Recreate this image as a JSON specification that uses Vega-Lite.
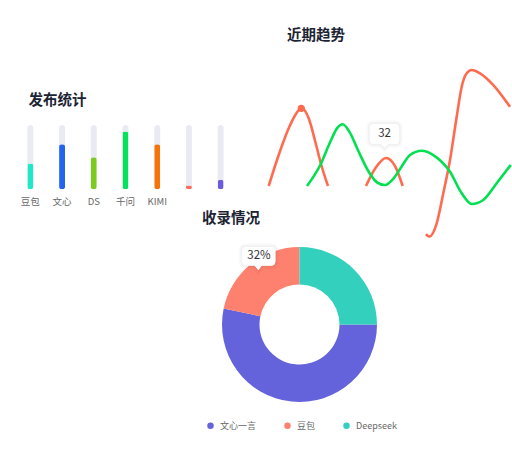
{
  "$schema": "https://vega.github.io/schema/vega-lite/v6.json",
  "description": "发布统计 / 近期趋势 / 收录情况",
  "width": 512,
  "height": 455,
  "padding": 0,
  "autosize": {"type": "none"},
  "config": {
    "view": {"stroke": null},
    "font": "Noto Sans CJK SC",
    "axis": {"grid": false, "domain": false, "ticks": false}
  },
  "resolve": {
    "scale": {"x": "independent", "y": "independent", "color": "independent"},
    "axis": {"x": "independent", "y": "independent"},
    "legend": {"color": "independent"}
  },
  "layer": [
    {
      "data": {
        "values": [
          {"name": "豆包", "value": 40},
          {"name": "文心", "value": 70},
          {"name": "DS", "value": 50},
          {"name": "千问", "value": 90},
          {"name": "KIMI", "value": 70},
          {"name": " ", "value": 6},
          {"name": "  ", "value": 15}
        ]
      },
      "encoding": {
        "x": {
          "field": "name",
          "type": "nominal",
          "sort": null,
          "scale": {"range": [14.5, 236.5], "paddingInner": 0, "paddingOuter": 0},
          "axis": {
            "orient": "bottom",
            "offset": -266,
            "labelAngle": 0,
            "labelPadding": 7,
            "labelFontSize": 9.5,
            "labelColor": "#666666",
            "title": "发布统计",
            "titleX": 28,
            "titleY": -89,
            "titleAlign": "left",
            "titleBaseline": "middle",
            "titleFontSize": 14.5,
            "titleFontWeight": "bold",
            "titleColor": "#1c2433"
          }
        }
      },
      "layer": [
        {
          "mark": {"type": "bar", "size": 6, "cornerRadius": 3, "color": "#E8ECF2"},
          "encoding": {
            "y": {
              "datum": 100,
              "type": "quantitative",
              "scale": {"domain": [0, 100], "range": [189.3, 125], "nice": false},
              "axis": null
            }
          }
        },
        {
          "mark": {"type": "bar", "size": 6, "cornerRadius": 2.5},
          "encoding": {
            "y": {"field": "value", "type": "quantitative"},
            "color": {
              "field": "name",
              "type": "nominal",
              "sort": null,
              "scale": {"range": ["#1EE8C8", "#2463EE", "#7ACC1E", "#00E35B", "#F5740A", "#FF6B5A", "#6C5CDB"]},
              "legend": null
            }
          }
        }
      ]
    },
    {
      "data": {
        "values": [
          {"series": "发布", "segment": "r1", "t": 0.07, "v": 0},
          {"series": "发布", "segment": "r1", "t": 1.07, "v": 35.4},
          {"series": "发布", "segment": "r1", "t": 2.07, "v": 65.9},
          {"series": "发布", "segment": "r1", "t": 2.73, "v": 81.1},
          {"series": "发布", "segment": "r1", "t": 3.33, "v": 88.8},
          {"series": "发布", "segment": "r1", "t": 4.07, "v": 77.4},
          {"series": "发布", "segment": "r1", "t": 4.73, "v": 50.6},
          {"series": "发布", "segment": "r1", "t": 5.33, "v": 24},
          {"series": "发布", "segment": "r1", "t": 6.0, "v": 0},
          {"series": "发布", "segment": "r2", "t": 9.8, "v": 0},
          {"series": "发布", "segment": "r2", "t": 10.73, "v": 20.2},
          {"series": "发布", "segment": "r2", "t": 11.8, "v": 32},
          {"series": "发布", "segment": "r2", "t": 12.73, "v": 22.1},
          {"series": "发布", "segment": "r2", "t": 13.47, "v": 0},
          {"series": "发布", "segment": "r3", "t": 15.8, "v": -54.9},
          {"series": "发布", "segment": "r3", "t": 16.13, "v": -57.9},
          {"series": "发布", "segment": "r3", "t": 16.87, "v": -42.6},
          {"series": "发布", "segment": "r3", "t": 17.53, "v": -8.3},
          {"series": "发布", "segment": "r3", "t": 18.2, "v": 29.7},
          {"series": "发布", "segment": "r3", "t": 18.87, "v": 79.2},
          {"series": "发布", "segment": "r3", "t": 19.37, "v": 113.5},
          {"series": "发布", "segment": "r3", "t": 19.87, "v": 128.8},
          {"series": "发布", "segment": "r3", "t": 20.37, "v": 132.6},
          {"series": "发布", "segment": "r3", "t": 21.2, "v": 128.8},
          {"series": "发布", "segment": "r3", "t": 22.53, "v": 115.4},
          {"series": "发布", "segment": "r3", "t": 24.2, "v": 90.6},
          {"series": "收录", "segment": "g1", "t": 3.9, "v": 0},
          {"series": "收录", "segment": "g1", "t": 5.23, "v": 24},
          {"series": "收录", "segment": "g1", "t": 6.23, "v": 50.6},
          {"series": "收录", "segment": "g1", "t": 6.9, "v": 65.9},
          {"series": "收录", "segment": "g1", "t": 7.47, "v": 70.5},
          {"series": "收录", "segment": "g1", "t": 8.13, "v": 62.1},
          {"series": "收录", "segment": "g1", "t": 9.07, "v": 39.2},
          {"series": "收录", "segment": "g1", "t": 10.07, "v": 16.3},
          {"series": "收录", "segment": "g1", "t": 10.9, "v": 4.2},
          {"series": "收录", "segment": "g1", "t": 11.67, "v": 1.1},
          {"series": "收录", "segment": "g1", "t": 12.57, "v": 8.8},
          {"series": "收录", "segment": "g1", "t": 13.4, "v": 22.9},
          {"series": "收录", "segment": "g1", "t": 14.2, "v": 35.4},
          {"series": "收录", "segment": "g1", "t": 15.37, "v": 40.3},
          {"series": "收录", "segment": "g1", "t": 16.53, "v": 35.4},
          {"series": "收录", "segment": "g1", "t": 18.2, "v": 16.3},
          {"series": "收录", "segment": "g1", "t": 19.37, "v": -8.3},
          {"series": "收录", "segment": "g1", "t": 20.37, "v": -20.6},
          {"series": "收录", "segment": "g1", "t": 21.53, "v": -16},
          {"series": "收录", "segment": "g1", "t": 22.87, "v": 3.1},
          {"series": "收录", "segment": "g1", "t": 24.27, "v": 24}
        ]
      },
      "encoding": {
        "x": {
          "field": "t",
          "type": "quantitative",
          "scale": {"domain": [0, 24.4], "range": [268, 512], "nice": false, "zero": false},
          "axis": {
            "orient": "top",
            "labels": false,
            "title": "近期趋势",
            "titleX": 315.5,
            "titleY": 35,
            "titleAlign": "center",
            "titleBaseline": "middle",
            "titleFontSize": 14.5,
            "titleFontWeight": "bold",
            "titleColor": "#1c2433"
          }
        },
        "y": {
          "field": "v",
          "type": "quantitative",
          "scale": {"domain": [-60, 140], "range": [238.5, 63.5], "nice": false, "zero": false},
          "axis": null
        }
      },
      "layer": [
        {
          "mark": {"type": "line", "interpolate": "monotone", "strokeWidth": 2.6},
          "encoding": {
            "color": {
              "field": "series",
              "type": "nominal",
              "scale": {"domain": ["发布", "收录"], "range": ["#FF6B4F", "#00E050"]},
              "legend": null
            },
            "detail": {"field": "segment"}
          }
        },
        {
          "data": {"values": [{"t": 3.33, "v": 88.8}]},
          "mark": {"type": "point", "shape": "circle", "filled": true, "size": 52, "color": "#FF6B4F", "opacity": 1}
        },
        {
          "data": {"values": [{"t": 11.8, "v": 32, "label": "32"}]},
          "layer": [
            {
              "mark": {
                "type": "point",
                "shape": "M -1.22 -3.4 L 0.92 -3.4 Q 1.32 -3.4 1.32 -3 L 1.32 -1.8 Q 1.32 -1.4 0.92 -1.4 L 0.2 -1.4 L -0.15 -1.05 L -0.5 -1.4 L -1.22 -1.4 Q -1.62 -1.4 -1.62 -1.8 L -1.62 -3 Q -1.62 -3.4 -1.22 -3.4 Z",
                "size": 400,
                "filled": true,
                "fill": "#ffffff",
                "stroke": "#000000",
                "strokeOpacity": 0.025,
                "strokeWidth": 7,
                "opacity": 1
              }
            },
            {
              "mark": {
                "type": "point",
                "shape": "M -1.22 -3.4 L 0.92 -3.4 Q 1.32 -3.4 1.32 -3 L 1.32 -1.8 Q 1.32 -1.4 0.92 -1.4 L 0.2 -1.4 L -0.15 -1.05 L -0.5 -1.4 L -1.22 -1.4 Q -1.62 -1.4 -1.62 -1.8 L -1.62 -3 Q -1.62 -3.4 -1.22 -3.4 Z",
                "size": 400,
                "filled": true,
                "fill": "#ffffff",
                "stroke": "#000000",
                "strokeOpacity": 0.03,
                "strokeWidth": 3.5,
                "opacity": 1
              }
            },
            {
              "mark": {
                "type": "point",
                "shape": "M -1.22 -3.4 L 0.92 -3.4 Q 1.32 -3.4 1.32 -3 L 1.32 -1.8 Q 1.32 -1.4 0.92 -1.4 L 0.2 -1.4 L -0.15 -1.05 L -0.5 -1.4 L -1.22 -1.4 Q -1.62 -1.4 -1.62 -1.8 L -1.62 -3 Q -1.62 -3.4 -1.22 -3.4 Z",
                "size": 400,
                "filled": true,
                "fill": "#ffffff",
                "strokeWidth": 0,
                "opacity": 1
              }
            },
            {
              "mark": {"type": "text", "dx": -1.5, "dy": -24, "fontSize": 11.5, "color": "#333333", "align": "center", "baseline": "middle"},
              "encoding": {"text": {"field": "label"}}
            }
          ]
        }
      ]
    },
    {
      "data": {
        "values": [
          {"name": "文心一言", "value": 53.3},
          {"name": "豆包", "value": 21.7},
          {"name": "Deepseek", "value": 25}
        ]
      },
      "encoding": {
        "x": {
          "datum": 0,
          "type": "quantitative",
          "scale": {"domain": [-1, 1], "range": [222, 377], "nice": false, "zero": false},
          "axis": {
            "orient": "top",
            "labels": false,
            "title": "收录情况",
            "titleX": 230.5,
            "titleY": 218,
            "titleAlign": "center",
            "titleBaseline": "middle",
            "titleFontSize": 14.5,
            "titleFontWeight": "bold",
            "titleColor": "#1c2433"
          }
        },
        "y": {
          "datum": 0,
          "type": "quantitative",
          "scale": {"domain": [-1, 1], "range": [402, 247], "nice": false, "zero": false},
          "axis": null
        }
      },
      "layer": [
        {
          "mark": {"type": "arc", "innerRadius": 40, "outerRadius": 77.5},
          "encoding": {
            "theta": {"field": "value", "type": "quantitative", "stack": true},
            "color": {
              "field": "name",
              "type": "nominal",
              "scale": {"domain": ["文心一言", "豆包", "Deepseek"], "range": ["#6563DB", "#FE806E", "#33D1BD"]},
              "legend": {
                "orient": "none",
                "legendX": 206,
                "legendY": 421,
                "direction": "horizontal",
                "title": null,
                "symbolType": "circle",
                "symbolSize": 42,
                "labelFontSize": 9,
                "labelColor": "#666666",
                "labelOffset": 5,
                "columnPadding": 26,
                "padding": 0
              }
            }
          }
        },
        {
          "data": {"values": [{"label": "32%"}]},
          "encoding": {
            "x": {"datum": -0.532, "type": "quantitative"},
            "y": {"datum": 0.703, "type": "quantitative"}
          },
          "layer": [
            {
              "mark": {
                "type": "point",
                "shape": "M -1.2 -2.3 L 1.3 -2.3 Q 1.7 -2.3 1.7 -1.9 L 1.7 -0.85 Q 1.7 -0.45 1.3 -0.45 L 0.35 -0.45 L 0 0 L -0.35 -0.45 L -1.2 -0.45 Q -1.6 -0.45 -1.6 -0.85 L -1.6 -1.9 Q -1.6 -2.3 -1.2 -2.3 Z",
                "size": 400,
                "filled": true,
                "fill": "#ffffff",
                "stroke": "#000000",
                "strokeOpacity": 0.025,
                "strokeWidth": 7,
                "opacity": 1
              }
            },
            {
              "mark": {
                "type": "point",
                "shape": "M -1.2 -2.3 L 1.3 -2.3 Q 1.7 -2.3 1.7 -1.9 L 1.7 -0.85 Q 1.7 -0.45 1.3 -0.45 L 0.35 -0.45 L 0 0 L -0.35 -0.45 L -1.2 -0.45 Q -1.6 -0.45 -1.6 -0.85 L -1.6 -1.9 Q -1.6 -2.3 -1.2 -2.3 Z",
                "size": 400,
                "filled": true,
                "fill": "#ffffff",
                "stroke": "#000000",
                "strokeOpacity": 0.03,
                "strokeWidth": 3.5,
                "opacity": 1
              }
            },
            {
              "mark": {
                "type": "point",
                "shape": "M -1.2 -2.3 L 1.3 -2.3 Q 1.7 -2.3 1.7 -1.9 L 1.7 -0.85 Q 1.7 -0.45 1.3 -0.45 L 0.35 -0.45 L 0 0 L -0.35 -0.45 L -1.2 -0.45 Q -1.6 -0.45 -1.6 -0.85 L -1.6 -1.9 Q -1.6 -2.3 -1.2 -2.3 Z",
                "size": 400,
                "filled": true,
                "fill": "#ffffff",
                "strokeWidth": 0,
                "opacity": 1
              }
            },
            {
              "mark": {"type": "text", "dx": 0.7, "dy": -14, "fontSize": 11.5, "color": "#333333", "align": "center", "baseline": "middle"},
              "encoding": {"text": {"field": "label"}}
            }
          ]
        }
      ]
    }
  ]
}
